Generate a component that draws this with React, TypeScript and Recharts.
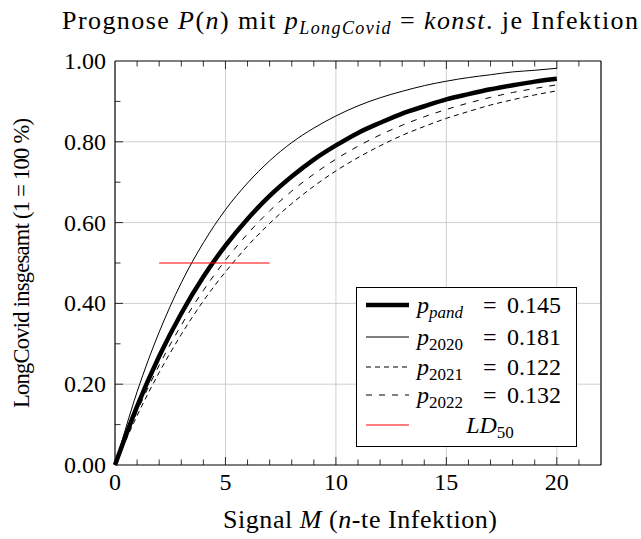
import { CartesianGrid, Legend, Line, LineChart, XAxis, YAxis } from "recharts"

// Infektion n und Gesamtwahrscheinlichkeit P(n)
const infektion = [0, 1, 2, 3, 4, 5, 6, 7, 8, 9, 10, 11, 12, 13, 14, 15, 16, 17, 18, 19, 20]
const pPand = [0, 0.145, 0.269, 0.375, 0.466, 0.543, 0.609, 0.666, 0.714, 0.756, 0.791, 0.822, 0.847, 0.87, 0.888, 0.905, 0.918, 0.93, 0.94, 0.949, 0.956]
const p2020 = [0, 0.181, 0.329, 0.451, 0.55, 0.632, 0.698, 0.753, 0.798, 0.834, 0.864, 0.889, 0.909, 0.925, 0.939, 0.95, 0.959, 0.966, 0.973, 0.977, 0.982]
const p2021 = [0, 0.122, 0.229, 0.323, 0.406, 0.478, 0.542, 0.598, 0.647, 0.69, 0.728, 0.761, 0.79, 0.816, 0.838, 0.858, 0.875, 0.891, 0.904, 0.916, 0.926]
const p2022 = [0, 0.132, 0.247, 0.346, 0.432, 0.507, 0.572, 0.629, 0.678, 0.72, 0.757, 0.789, 0.817, 0.841, 0.862, 0.88, 0.896, 0.91, 0.922, 0.932, 0.941]

// LD50-Markierung
const ldX = [2, 7]
const ldY = [0.5, 0.5]

const xTicks = [0, 1, 2, 3, 4, 5, 6, 7, 8, 9, 10, 11, 12, 13, 14, 15, 16, 17, 18, 19, 20, 21, 22]
const yTicks = [0, 0.1, 0.2, 0.3, 0.4, 0.5, 0.6, 0.7, 0.8, 0.9, 1]

const data = infektion.map((n, i) => ({ n, pPand: pPand[i], p2020: p2020[i], p2021: p2021[i], p2022: p2022[i] }))
const ldData = ldX.map((n, i) => ({ n, ld: ldY[i] }))

const FONT = "Liberation Serif"
const FS = 24
const SUB = 17

const isMajorX = (v: number) => v % 5 === 0
const isMajorY = (v: number) => Math.round(v * 10) % 2 === 0

function BottomTick(props: any) {
  const { x, y, payload } = props
  const v = payload.value
  const major = isMajorX(v)
  return (
    <g>
      {v > 0 && v < 22 && <line x1={x} x2={x} y1={y} y2={y - (major ? 8 : 5.5)} stroke="#000" strokeWidth={0.8} />}
      {major && (
        <text x={x} y={y + 25} textAnchor="middle" fontFamily={FONT} fontSize={FS} fill="#000">
          {v}
        </text>
      )}
    </g>
  )
}

function TopTick(props: any) {
  const { x, y, payload } = props
  const v = payload.value
  if (v <= 0 || v >= 22) return <g />
  return <line x1={x} x2={x} y1={y} y2={y + (isMajorX(v) ? 8 : 5.5)} stroke="#000" strokeWidth={0.8} />
}

function LeftTick(props: any) {
  const { x, y, payload } = props
  const v = payload.value
  const major = isMajorY(v)
  return (
    <g>
      {v > 0 && v < 1 && <line x1={x} x2={x + (major ? 8 : 5.5)} y1={y} y2={y} stroke="#000" strokeWidth={0.8} />}
      {major && (
        <text x={x - 9} y={y + 8} textAnchor="end" fontFamily={FONT} fontSize={FS} fill="#000">
          {v.toFixed(2)}
        </text>
      )}
    </g>
  )
}

function RightTick(props: any) {
  const { x, y, payload } = props
  const v = payload.value
  if (v <= 0 || v >= 1) return <g />
  return <line x1={x} x2={x - (isMajorY(v) ? 8 : 5.5)} y1={y} y2={y} stroke="#000" strokeWidth={0.8} />
}

const legendRows = [
  { key: "pand", sub: "pand", subItalic: true, value: "0.145", width: 4.5, dash: undefined },
  { key: "2020", sub: "2020", subItalic: false, value: "0.181", width: 1, dash: undefined },
  { key: "2021", sub: "2021", subItalic: false, value: "0.122", width: 1, dash: "5 4" },
  { key: "2022", sub: "2022", subItalic: false, value: "0.132", width: 1, dash: "6 7" },
]
const legendRowY = [18, 50, 80, 108, 138]

function LegendBox() {
  return (
    <svg width={221} height={160} style={{ display: "block" }}>
      <rect x={0.5} y={0.5} width={220} height={159} fill="#fff" stroke="#000" strokeWidth={1} />
      {legendRows.map((r, i) => {
        const cy = legendRowY[i]
        return (
          <g key={r.key}>
            <line x1={10} x2={53} y1={cy} y2={cy} stroke="#000" strokeWidth={r.width} strokeDasharray={r.dash} />
            <text y={cy + 8} fontFamily={FONT} fontSize={FS} fill="#000">
              <tspan x={61} fontStyle="italic">p</tspan>
              <tspan fontSize={SUB} dy={5} fontStyle={r.subItalic ? "italic" : "normal"}>
                {r.sub}
              </tspan>
              <tspan x={127} dy={-5}>=</tspan>
              <tspan x={151}>{r.value}</tspan>
            </text>
          </g>
        )
      })}
      <line x1={10} x2={53} y1={legendRowY[4]} y2={legendRowY[4]} stroke="#ff0000" strokeWidth={1.2} />
      <text x={134} y={legendRowY[4] + 8} textAnchor="middle" fontFamily={FONT} fontSize={FS} fill="#000">
        <tspan fontStyle="italic">LD</tspan>
        <tspan fontSize={SUB} dy={5}>
          50
        </tspan>
      </text>
    </svg>
  )
}

export default function App() {
  return (
    <div style={{ position: "absolute", left: 0, top: 0, width: 641, height: 539, background: "#fff" }}>
      <LineChart width={641} height={539} data={data} margin={{ top: 60, right: 39, bottom: 73, left: 114 }}>
        <CartesianGrid stroke="#c4c4c4" strokeWidth={0.8} verticalValues={[5, 10, 15, 20]} horizontalValues={[0.2, 0.4, 0.6, 0.8]} />
        <XAxis
          dataKey="n"
          type="number"
          domain={[0, 22]}
          ticks={xTicks}
          interval={0}
          height={1}
          tickSize={0}
          tickMargin={0}
          tick={<BottomTick />}
          axisLine={{ stroke: "#000", strokeWidth: 1.2 }}
          tickLine={false}
        />
        <XAxis
          xAxisId="top"
          orientation="top"
          dataKey="n"
          type="number"
          domain={[0, 22]}
          ticks={xTicks}
          interval={0}
          height={1}
          tickSize={0}
          tickMargin={0}
          tick={<TopTick />}
          axisLine={{ stroke: "#000", strokeWidth: 1.2 }}
          tickLine={false}
        />
        <YAxis
          type="number"
          domain={[0, 1]}
          ticks={yTicks}
          interval={0}
          width={1}
          tickSize={0}
          tickMargin={0}
          tick={<LeftTick />}
          axisLine={{ stroke: "#000", strokeWidth: 1.2 }}
          tickLine={false}
        />
        <YAxis
          yAxisId="right"
          orientation="right"
          type="number"
          domain={[0, 1]}
          ticks={yTicks}
          interval={0}
          width={1}
          tickSize={0}
          tickMargin={0}
          tick={<RightTick />}
          axisLine={{ stroke: "#000", strokeWidth: 1.2 }}
          tickLine={false}
        />
        <Line dataKey="p2022" type="monotone" stroke="#000" strokeWidth={1} strokeDasharray="6 7" dot={false} isAnimationActive={false} />
        <Line dataKey="p2021" type="monotone" stroke="#000" strokeWidth={1} strokeDasharray="5 4" dot={false} isAnimationActive={false} />
        <Line dataKey="pPand" type="monotone" stroke="#000" strokeWidth={4.5} dot={false} isAnimationActive={false} />
        <Line dataKey="p2020" type="monotone" stroke="#000" strokeWidth={1} dot={false} isAnimationActive={false} />
        <Line data={ldData} dataKey="ld" type="linear" stroke="#ff0000" strokeWidth={1.2} dot={false} isAnimationActive={false} />
        <Legend
          layout="vertical"
          align="center"
          verticalAlign="middle"
          wrapperStyle={{ position: "absolute", left: 356, top: 287, width: 221, height: 160 }}
          content={() => <LegendBox />}
        />
      </LineChart>
      <svg width={641} height={539} style={{ position: "absolute", left: 0, top: 0, pointerEvents: "none" }}>
        <text x={62} y={29} textLength={576} fontFamily={FONT} fontSize={26} fill="#000">
          {"Prognose "}
          <tspan fontStyle="italic">P</tspan>
          {"("}
          <tspan fontStyle="italic">n</tspan>
          {") mit "}
          <tspan fontStyle="italic">p</tspan>
          <tspan fontSize={18} dy={5} fontStyle="italic">
            LongCovid
          </tspan>
          <tspan dy={-5}>{" = "}</tspan>
          <tspan fontStyle="italic">konst</tspan>
          {". je Infektion"}
        </text>
        <text x={29} y={408} transform="rotate(-90 29 408)" textLength={290} fontFamily={FONT} fontSize={22.5} fill="#000">
          LongCovid insgesamt (1 = 100 %)
        </text>
        <text x={223} y={528} textLength={274} fontFamily={FONT} fontSize={26} fill="#000">
          {"Signal "}
          <tspan fontStyle="italic">M</tspan>
          {" ("}
          <tspan fontStyle="italic">n</tspan>
          {"-te Infektion)"}
        </text>
      </svg>
    </div>
  )
}
